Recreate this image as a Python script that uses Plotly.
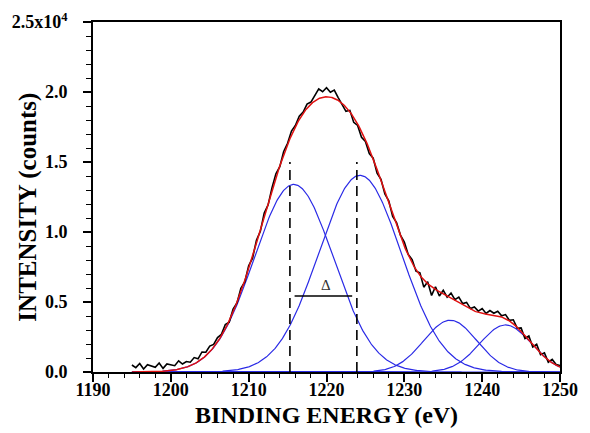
import numpy as np
import plotly.graph_objects as go

# ---- measured spectrum (units of 1e4 counts), sampled every 0.5 eV from 1195 to 1250 eV
energy_start, energy_stop, energy_step = 1195.0, 1250.0, 0.5
measured = [
    0.050, 0.031, 0.061, 0.021, 0.052, 0.042, 0.033, 0.064, 0.026, 0.058, 0.051, 0.045, 0.080, 0.057,
    0.075, 0.070, 0.103, 0.094, 0.143, 0.141, 0.185, 0.197, 0.246,
    0.269, 0.339, 0.356, 0.449, 0.493, 0.598, 0.644, 0.759, 0.813, 0.941, 1.005, 1.135, 1.194, 1.317,
    1.416, 1.466, 1.575, 1.634, 1.721, 1.761, 1.827, 1.857,
    1.914, 1.928, 1.976, 2.022, 2.002, 2.030, 1.998, 2.014, 1.960,
    1.914, 1.862, 1.869, 1.783, 1.761, 1.677, 1.647, 1.560, 1.527, 1.421, 1.377, 1.271, 1.223, 1.111,
    1.068, 0.978, 0.928, 0.840,
    0.803, 0.720, 0.709, 0.606, 0.644, 0.547, 0.609, 0.543, 0.584, 0.534,
    0.564, 0.517, 0.535, 0.489, 0.497, 0.453, 0.465, 0.435, 0.453, 0.418, 0.439, 0.420, 0.434, 0.401,
    0.410, 0.369, 0.373, 0.313,
    0.315, 0.239, 0.257, 0.179, 0.198, 0.124, 0.137, 0.070, 0.090, 0.054, 0.046,
]

# ---- fitted Gaussian components (center eV, height 1e4 counts, sigma eV)
peak_centers = [1215.8, 1224.3, 1235.9, 1243.0]
peak_heights = [1.34, 1.405, 0.37, 0.336]
peak_sigmas = [5.1, 5.3, 3.4, 3.3]

# ---- annotations
dashed_positions = [1215.3, 1223.9]
dashed_top = 1.5
delta_span = [1215.9, 1223.3]
delta_level = 0.543
delta_label_pos = (1219.9, 0.62)

# ---- axes
x_ticks = [1190, 1200, 1210, 1220, 1230, 1240, 1250]
x_ticklabels = ["1190", "1200", "1210", "1220", "1230", "1240", "1250"]
y_ticks = [0.0, 0.5, 1.0, 1.5, 2.0, 2.5]
y_ticklabels = ["0.0", "0.5", "1.0", "1.5", "2.0", "2.5x10<sup>4</sup>"]

x_meas = energy_start + energy_step * np.arange(len(measured))
x_fit = np.linspace(energy_start, energy_stop, 551)
components = [h * np.exp(-(x_fit - c) ** 2 / (2 * s ** 2))
              for c, h, s in zip(peak_centers, peak_heights, peak_sigmas)]
fit_total = np.sum(components, axis=0)

fig = go.Figure()
for comp in components:
    fig.add_trace(go.Scatter(x=x_fit, y=comp, mode="lines",
                             line=dict(color="#2a2ae6", width=1.2), hoverinfo="skip"))
fig.add_trace(go.Scatter(x=x_meas, y=measured, mode="lines",
                         line=dict(color="black", width=1.6), hoverinfo="skip"))
fig.add_trace(go.Scatter(x=x_fit, y=fit_total, mode="lines",
                         line=dict(color="#e01010", width=1.5), hoverinfo="skip"))
for xd in dashed_positions:
    fig.add_trace(go.Scatter(x=[xd, xd], y=[0, dashed_top], mode="lines",
                             line=dict(color="black", width=1.6, dash="10px,6px"), hoverinfo="skip"))
fig.add_trace(go.Scatter(x=delta_span, y=[delta_level, delta_level], mode="lines",
                         line=dict(color="black", width=1.5), hoverinfo="skip"))

fig.add_annotation(x=delta_label_pos[0], y=delta_label_pos[1], text="Δ", showarrow=False,
                   font=dict(family="Liberation Serif", size=15, color="#333333"))

serif = "Liberation Serif"
fig.add_annotation(xref="paper", yref="paper", x=0.5, y=-0.122, text="BINDING ENERGY (eV)",
                   showarrow=False, xanchor="center", yanchor="middle",
                   font=dict(family=serif, size=24, color="black", weight="bold"))
fig.add_annotation(xref="paper", yref="paper", x=-0.141, y=0.47, text="INTENSITY (counts)",
                   showarrow=False, textangle=-90, xanchor="center", yanchor="middle",
                   font=dict(family=serif, size=25, color="black", weight="bold"))

axis_common = dict(showline=True, linecolor="black", linewidth=1.6, mirror=True,
                   showgrid=False, zeroline=False, ticks="outside", ticklen=8,
                   tickwidth=1.5, tickcolor="black", layer="below traces",
                   tickfont=dict(family=serif, size=18, color="black", weight="bold"))

fig.update_xaxes(range=[1190, 1250], tickmode="array", tickvals=x_ticks, ticktext=x_ticklabels,
                 ticklabelstandoff=-7,
                 minor=dict(dtick=2, tick0=1190, ticks="outside", ticklen=4, tickwidth=1.2,
                            tickcolor="black", showgrid=False),
                 **axis_common)
fig.update_yaxes(range=[0, 2.5], tickmode="array", tickvals=y_ticks, ticktext=y_ticklabels,
                 ticklabelstandoff=12,
                 minor=dict(dtick=0.1, tick0=0, ticks="outside", ticklen=5, tickwidth=1.2,
                            tickcolor="black", showgrid=False),
                 **axis_common)

# the page body adds an 8px offset, so the figure is 8px smaller and the top/left margins 8px less
fig.update_layout(width=582, height=425, margin=dict(l=85, r=30, t=14, b=61, autoexpand=False),
                  plot_bgcolor="white", paper_bgcolor="white", showlegend=False)

fig.write_html("out.html")
